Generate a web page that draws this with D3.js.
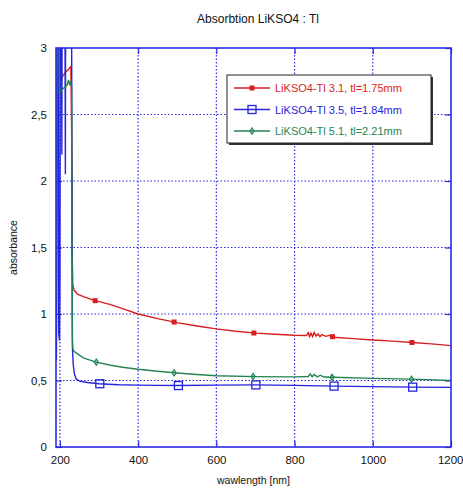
<!DOCTYPE html>
<html>
<head>
<meta charset="utf-8">
<script src="https://cdn.jsdelivr.net/npm/d3@7"></script>
<style>
  body { margin: 0; background: #fff; }
  text { font-family: "Liberation Sans", Arial, sans-serif; }
</style>
</head>
<body>
<div id="chart"></div>
<script>
// absorbance spectra, [wavelength nm, absorbance]
const redSeries = [
  [191, 1.5], [191.5, 1.6], [192, 2.2], [192.5, 2.33], [193, 3.2], [203, 3.2], [204, 2.75],
  [205, 2.78], [210, 2.8], [215, 2.82], [222, 2.84], [228, 2.86], [229.5, 2.5], [230.5, 2.2],
  [231.5, 1.42], [233, 1.22], [236, 1.18], [245, 1.15], [260, 1.13], [290, 1.1], [330, 1.07],
  [360, 1.04], [400, 1.0], [450, 0.965], [500, 0.935], [550, 0.91], [600, 0.888], [650, 0.87],
  [700, 0.856], [750, 0.848], [800, 0.84], [830, 0.838], [835, 0.86], [838, 0.83], [842, 0.856],
  [846, 0.83], [850, 0.862], [855, 0.834], [860, 0.85], [865, 0.83], [870, 0.845], [880, 0.832],
  [890, 0.84], [900, 0.825], [950, 0.815], [1000, 0.805], [1050, 0.796], [1100, 0.786],
  [1150, 0.775], [1200, 0.762]
];
const blueSeries = [
  [191, 0.65], [191.5, 0.9], [192, 1.15], [193, 3.2], [196, 3.2], [197, 0.85], [199, 0.8],
  [200, 1.2], [201, 3.2], [204, 3.2], [205, 2.2], [205.5, 3.2], [213, 3.2], [214, 2.05],
  [214.5, 3.2], [230, 3.2], [230.5, 2.2], [231, 2.02], [231.5, 1.0], [232, 0.75], [234, 0.62],
  [237, 0.55], [242, 0.51], [250, 0.495], [270, 0.485], [300, 0.476], [350, 0.468],
  [400, 0.465], [450, 0.463], [500, 0.462], [600, 0.465], [700, 0.467], [800, 0.463],
  [900, 0.458], [1000, 0.454], [1100, 0.45], [1200, 0.448]
];
const greenSeries = [
  [191, 1.1], [192, 2.2], [193, 3.2], [198, 3.2], [199, 2.65], [203, 2.68], [210, 2.7],
  [218, 2.72], [222, 2.76], [225, 2.72], [228, 2.75], [230, 2.7], [231, 1.5], [232, 0.8],
  [233, 0.74], [236, 0.72], [245, 0.7], [260, 0.67], [290, 0.64], [330, 0.615], [360, 0.6],
  [400, 0.585], [450, 0.57], [500, 0.556], [550, 0.545], [600, 0.536], [700, 0.529],
  [800, 0.527], [835, 0.53], [840, 0.55], [845, 0.528], [850, 0.545], [858, 0.527],
  [866, 0.54], [875, 0.526], [900, 0.524], [1000, 0.516], [1100, 0.51], [1200, 0.5]
];
const redMarkers = [290, 492, 696, 897, 1100];
const blueMarkers = [302, 503, 701, 901, 1102];
const greenMarkers = [293, 492, 694, 896, 1099];
const seriesNames = ["LiKSO4-Tl 3.1, tl=1.75mm", "LiKSO4-Tl 3.5, tl=1.84mm", "LiKSO4-Tl 5.1, tl=2.21mm"];
const xTicks = [200, 400, 600, 800, 1000, 1200];
const yTicks = [0, 0.5, 1, 1.5, 2, 2.5, 3];

const width = 463, height = 489;
const margin = { left: 56, top: 48, right: 12, bottom: 42 };
const innerW = width - margin.left - margin.right;
const innerH = height - margin.top - margin.bottom;
const axisColor = "#2b2be6";

const svg = d3.select("#chart").append("svg")
  .attr("width", width)
  .attr("height", height);

const x = d3.scaleLinear().domain([190, 1200]).range([0, innerW]);
const y = d3.scaleLinear().domain([0, 3]).range([innerH, 0]);

const g = svg.append("g").attr("transform", `translate(${margin.left},${margin.top})`);

g.append("clipPath").attr("id", "clip")
  .append("rect").attr("width", innerW).attr("height", innerH);

// dotted grid
g.selectAll(".gx").data(xTicks.filter(d => d < 1200)).enter().append("line")
  .attr("x1", d => x(d)).attr("x2", d => x(d))
  .attr("y1", 0).attr("y2", innerH)
  .attr("stroke", axisColor).attr("stroke-width", 1.2).attr("stroke-dasharray", "1.5,2");
g.selectAll(".gy").data(yTicks.filter(d => d > 0 && d < 3)).enter().append("line")
  .attr("x1", 0).attr("x2", innerW)
  .attr("y1", d => y(d)).attr("y2", d => y(d))
  .attr("stroke", axisColor).attr("stroke-width", 1.2).attr("stroke-dasharray", "1.5,2");

// axes: labels below / left, short ticks inside on all sides
const xAxis = g.append("g").attr("transform", `translate(0,${innerH})`)
  .call(d3.axisBottom(x).tickValues(xTicks).tickSize(0).tickPadding(9).tickFormat(d3.format("d")));
const yAxis = g.append("g")
  .call(d3.axisLeft(y).tickValues(yTicks).tickSize(0).tickPadding(9)
    .tickFormat(d => String(d).replace(".", ",")));
[xAxis, yAxis].forEach(a => {
  a.select(".domain").remove();
  a.selectAll("text").attr("fill", "#111").style("font-size", "11.5px");
});
// keep the last x label inside the window
xAxis.selectAll("text").filter(d => d === 1200).attr("text-anchor", "end").attr("dx", "12px");

const tickStyle = a => {
  a.select(".domain").remove();
  a.selectAll("line").attr("stroke", axisColor).attr("stroke-width", 1.2);
};
g.append("g").attr("transform", `translate(0,${innerH})`)
  .call(d3.axisTop(x).tickValues(xTicks).tickSize(6).tickFormat("")).call(tickStyle);
g.append("g")
  .call(d3.axisBottom(x).tickValues(xTicks).tickSize(6).tickFormat("")).call(tickStyle);
g.append("g")
  .call(d3.axisRight(y).tickValues(yTicks).tickSize(6).tickFormat("")).call(tickStyle);
g.append("g").attr("transform", `translate(${innerW},0)`)
  .call(d3.axisLeft(y).tickValues(yTicks).tickSize(6).tickFormat("")).call(tickStyle);

// series
const series = [
  { name: seriesNames[0], data: redSeries, markers: redMarkers, color: "#d81e1e", shape: "fillsq" },
  { name: seriesNames[1], data: blueSeries, markers: blueMarkers, color: "#2424dc", shape: "opensq" },
  { name: seriesNames[2], data: greenSeries, markers: greenMarkers, color: "#248552", shape: "diamond" }
];

const line = d3.line().x(d => x(d[0])).y(d => y(d[1]));
const interp = (data, wl) => {
  const i = d3.bisector(d => d[0]).left(data, wl);
  const a = data[i - 1], b = data[i];
  if (!a) return b[1];
  if (!b) return a[1];
  return a[1] + (b[1] - a[1]) * (wl - a[0]) / (b[0] - a[0]);
};

function drawMarker(sel, s, cx, cy) {
  if (s.shape === "fillsq") {
    sel.append("rect").attr("x", cx - 2.5).attr("y", cy - 2.5).attr("width", 5).attr("height", 5)
      .attr("fill", s.color);
  } else if (s.shape === "opensq") {
    sel.append("rect").attr("x", cx - 4).attr("y", cy - 4).attr("width", 8).attr("height", 8)
      .attr("fill", "none").attr("stroke", s.color).attr("stroke-width", 1.3);
  } else {
    sel.append("path")
      .attr("d", `M${cx},${cy - 3}L${cx + 2},${cy}L${cx},${cy + 3}L${cx - 2},${cy}Z`)
      .attr("fill", "none").attr("stroke", s.color).attr("stroke-width", 1.3);
  }
}

const plot = g.append("g").attr("clip-path", "url(#clip)");
series.forEach(s => {
  plot.append("path").datum(s.data)
    .attr("d", line).attr("fill", "none")
    .attr("stroke", s.color).attr("stroke-width", 1.4);
  s.markers.forEach(wl => drawMarker(plot, s, x(wl), y(interp(s.data, wl))));
});

// frame
g.append("rect").attr("width", innerW).attr("height", innerH)
  .attr("fill", "none").attr("stroke", axisColor).attr("stroke-width", 1.6);

// legend
const lg = svg.append("g").attr("transform", "translate(227,75)");
lg.append("rect").attr("x", 2).attr("y", 2).attr("width", 204).attr("height", 68).attr("fill", "#333");
lg.append("rect").attr("width", 204).attr("height", 68)
  .attr("fill", "#fff").attr("stroke", "#222").attr("stroke-width", 1);
series.forEach((s, i) => {
  const ly = 13 + i * 21.5;
  lg.append("line").attr("x1", 7).attr("x2", 43).attr("y1", ly).attr("y2", ly)
    .attr("stroke", s.color).attr("stroke-width", 1.3);
  drawMarker(lg, s, 25, ly);
  lg.append("text").attr("x", 48).attr("y", ly + 4).attr("fill", s.color)
    .style("font-size", "11px").text(s.name);
});

// titles
svg.append("text").attr("x", 258).attr("y", 23).attr("text-anchor", "middle")
  .style("font-size", "12px").attr("fill", "#111").text("Absorbtion LiKSO4 : Tl");
svg.append("text").attr("x", margin.left + innerW / 2).attr("y", 484).attr("text-anchor", "middle")
  .style("font-size", "10.5px").attr("fill", "#111").text("wawlength [nm]");
svg.append("text").attr("transform", `translate(17,${margin.top + innerH / 2}) rotate(-90)`)
  .attr("text-anchor", "middle").style("font-size", "10.5px").attr("fill", "#111").text("absorbance");
</script>
</body>
</html>
